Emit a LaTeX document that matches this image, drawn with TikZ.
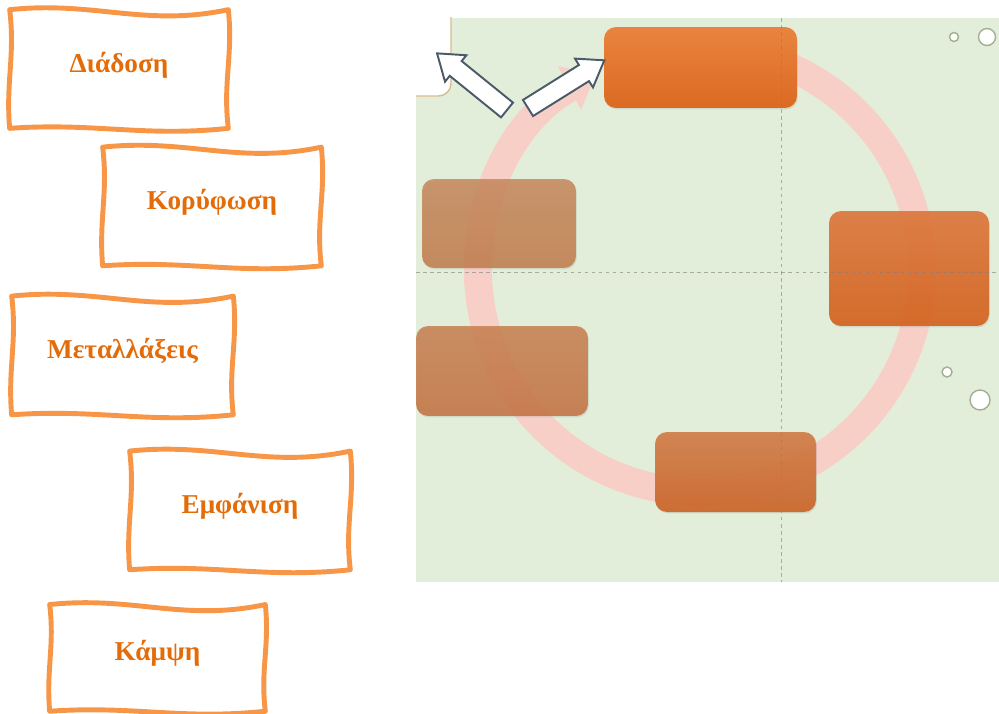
\documentclass[tikz,border=0pt]{standalone}
\usepackage{fontspec}
\setmainfont{Liberation Serif}
\usetikzlibrary{positioning,arrows.meta,shadows}

\definecolor{cardline}{HTML}{F79646}
\definecolor{cardtext}{HTML}{E36C09}
\definecolor{panelgreen}{HTML}{E2EED9}
\definecolor{ringpink}{HTML}{F7CFC6}
\definecolor{arrowedge}{HTML}{4B5A68}
\definecolor{bubbleedge}{HTML}{A3AE92}
\definecolor{framegold}{HTML}{D9BC8C}
\definecolor{slotAtop}{RGB}{232,132,63}
\definecolor{slotAbot}{RGB}{220,106,34}
\definecolor{slotBtop}{RGB}{221,120,62}
\definecolor{slotBbot}{RGB}{213,99,30}
\definecolor{slotCtop}{RGB}{209,126,73}
\definecolor{slotCbot}{RGB}{203,101,41}
\definecolor{slotDtop}{RGB}{200,128,80}
\definecolor{slotDbot}{RGB}{196,113,64}
\definecolor{slotEtop}{RGB}{198,136,92}
\definecolor{slotEbot}{RGB}{194,124,76}

\tikzset{
  card/.style={text=cardtext, font=\fontsize{15.5}{18}\selectfont\bfseries,
    text height=10pt, text depth=6.5pt,
    minimum width=4.36cm, minimum height=2.36cm},
  cardedge/.style={draw=cardline, line width=2.8pt, line join=round},
  slot/.style={rounded corners=0.24cm, inner sep=0pt,
    drop shadow={opacity=0.18, shadow xshift=0.5pt, shadow yshift=-0.8pt}},
  guide/.style={gray, line width=0.5pt, dash pattern=on 2pt off 2pt, opacity=0.6},
  ring/.style={ringpink, line width=0.56cm, -{Triangle[length=17pt,width=27pt]}},
  bubble/.style={draw=bubbleedge, fill=white, line width=0.8pt},
  blockarr/.pic={
    \draw[fill=white, draw=arrowedge, line width=1.1pt]
      (0,-9.5) -- (66,-9.5) -- (66,-17) -- (90,0) -- (66,17) -- (66,9.5) -- (0,9.5) -- cycle;}
}

% hand-drawn frame round a card
\newcommand{\cardframe}[1]{%
  \draw[cardedge] (#1.north west) to[out=6,in=192] (#1.north east)
    to[out=-84,in=97] (#1.south east) to[out=186,in=4] (#1.south west)
    to[out=95,in=-83] cycle;}

\begin{document}
\begin{tikzpicture}[x=0.02cm, y=-0.02cm, on grid]
  \useasboundingbox (0,0) rectangle (999,713);

  % the word cards
  \node[card] (diadosi) at (119,69) {Διάδοση};
  \node[card] (koryfosi) [below right=2.75cm and 1.86cm of diadosi] {Κορύφωση};
  \node[card, minimum width=4.42cm] (metallaxeis) [below left=2.98cm and 1.79cm of koryfosi] {Μεταλλάξεις};
  \node[card, minimum width=4.4cm] (emfanisi) [below right=3.1cm and 2.35cm of metallaxeis] {Εμφάνιση};
  \node[card, minimum width=4.3cm, minimum height=2.12cm] (kampsi) [below left=2.95cm and 1.65cm of emfanisi] {Κάμψη};
  \cardframe{diadosi}
  \cardframe{koryfosi}
  \cardframe{metallaxeis}
  \cardframe{emfanisi}
  \cardframe{kampsi}

  % the cycle panel
  \fill[panelgreen] (416,18) rectangle (999,582);
  \begin{scope}
    \clip (416,18) rectangle (999,582);
    \draw[framegold, line width=0.8pt, fill=white, rounded corners=0.25cm] (380,0) rectangle (451,96);
  \end{scope}

  \coordinate (ringc) at (700,270);
  \draw[ring] ([shift={(-105:222)}]ringc) arc[start angle=-105, end angle=242, radius=222];

  \node[slot, top color=slotAtop, bottom color=slotAbot,
        minimum width=3.86cm, minimum height=1.62cm] (stage1) at (700.5,67.5) {};
  \node[slot, fill opacity=0.92, top color=slotBtop, bottom color=slotBbot,
        minimum width=3.2cm, minimum height=2.3cm] (stage2) at (909,268.5) {};
  \node[slot, fill opacity=0.92, top color=slotCtop, bottom color=slotCbot,
        minimum width=3.22cm, minimum height=1.6cm] (stage3) at (735.5,472) {};
  \node[slot, fill opacity=0.85, top color=slotDtop, bottom color=slotDbot,
        minimum width=3.44cm, minimum height=1.8cm] (stage4) at (502,371) {};
  \node[slot, fill opacity=0.85, top color=slotEtop, bottom color=slotEbot,
        minimum width=3.08cm, minimum height=1.78cm] (stage5) at (499,223.5) {};

  \draw[guide] (781,18) -- (781,582);
  \draw[guide] (416,272) -- (999,272);

  \draw[bubble] (954,37) circle[radius=4.5];
  \draw[bubble] (987,37) circle[radius=8.5];
  \draw[bubble] (947,372) circle[radius=5];
  \draw[bubble] (980,400) circle[radius=10];

  \pic[rotate=141] (backarr) at (507,110) {blockarr};
  \pic[rotate=32] (fwdarr) at (528,108) {blockarr};
\end{tikzpicture}
\end{document}
